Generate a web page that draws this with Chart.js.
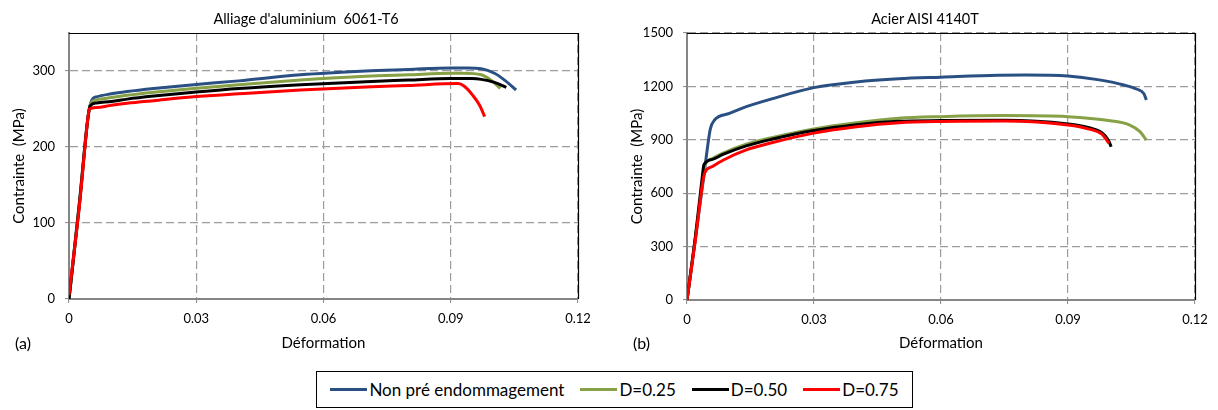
<!DOCTYPE html>
<html>
<head>
<meta charset="utf-8">
<script src="https://cdn.jsdelivr.net/npm/chart.js@4/dist/chart.umd.min.js"></script>
<style>
  html, body { margin: 0; padding: 0; background: #fff; }
  body { width: 1218px; height: 410px; position: relative; overflow: hidden;
         font-family: Lato, "Open Sans", sans-serif; color: #000; }
  canvas { position: absolute; top: 0; }
  #cA { left: 0; }
  #cB { left: 609px; }
  .ttl { position: absolute; top: 10px; font-size: 14.5px; white-space: pre; transform: translateX(-50%); }
  .tag { position: absolute; top: 333px; font-size: 16px; }
  #legend { position: absolute; left: 316px; top: 371px; width: 595px; height: 35px;
            border: 1px solid #000; display: flex; align-items: center; justify-content: center;
            font-size: 17px; }
  #legend .item { display: flex; align-items: center; margin: 0 8px; white-space: pre; }
  #legend .item i { display: inline-block; width: 37px; height: 3px; margin-right: 2px; }
</style>
</head>
<body>
<canvas id="cA" width="609" height="360"></canvas>
<canvas id="cB" width="609" height="360"></canvas>
<div class="ttl" style="left:306px">Alliage d'aluminium  6061-T6</div>
<div class="ttl" style="left:925px">Acier AISI 4140T</div>
<div class="tag" style="left:15px">(a)</div>
<div class="tag" style="left:633px">(b)</div>
<div id="legend"></div>
<script>
// Series labels shared by both panels
const seriesNames = ['Non pré endommagement', 'D=0.25', 'D=0.50', 'D=0.75'];

// Axis ticks
const strainTicks = [0, 0.03, 0.06, 0.09, 0.12];
const strainTickLabels = ['0', '0.03', '0.06', '0.09', '0.12'];
const alStressTicks = [0, 100, 200, 300];
const alStressTickLabels = ['0', '100', '200', '300'];
const steelStressTicks = [0, 300, 600, 900, 1200, 1500];
const steelStressTickLabels = ['0', '300', '600', '900', '1200', '1500'];

// Aluminium 6061-T6: [strain, stress (MPa)]
const alNonPre = [[0,0],[0.0025,130],[0.0045,240],[0.0054,262],[0.0065,266],[0.01,270],[0.0137,273],[0.02,277],[0.0294,282],[0.04,287],[0.0546,295],[0.07,300],[0.08,302],[0.09,304],[0.094,304],[0.0972,303],[0.1003,297],[0.1027,288],[0.1054,275]];
const alD025 = [[0,0],[0.0025,128],[0.0045,240],[0.0052,258],[0.0065,262],[0.01,265],[0.0137,268],[0.02,272],[0.0294,277],[0.04,282],[0.0546,288],[0.07,293],[0.08,295],[0.09,297],[0.093,297],[0.0972,295],[0.0995,288],[0.1017,277]];
const alD050 = [[0,0],[0.0025,127],[0.0045,240],[0.005,254],[0.0065,258],[0.01,260],[0.0137,263],[0.02,267],[0.0294,272],[0.04,277],[0.0546,282],[0.07,286],[0.08,288],[0.09,290],[0.095,290],[0.0972,289],[0.1003,285],[0.1031,278.5]];
const alD075 = [[0,5],[0.0025,125],[0.0045,240],[0.0048,250],[0.0065,252],[0.01,255],[0.0137,257.5],[0.02,261],[0.0294,266],[0.04,270],[0.0546,275],[0.07,279],[0.08,281],[0.0917,283.5],[0.0932,280],[0.0952,268],[0.0968,255],[0.098,240]];

// Steel AISI 4140T: [strain, stress (MPa)]
const stNonPre = [[0,0],[0.002,350],[0.004,700],[0.0048,850],[0.0055,960],[0.0065,1011],[0.01,1048],[0.014,1086],[0.02,1130],[0.03,1193],[0.04,1225],[0.05,1243],[0.06,1252],[0.0735,1263],[0.08,1264],[0.09,1258],[0.097,1238],[0.1032,1208],[0.1063,1184],[0.1079,1160],[0.1085,1124]];
const stD025 = [[0,0],[0.002,350],[0.0038,690],[0.0042,755],[0.006,795],[0.0085,825],[0.014,875],[0.02,912],[0.0296,960],[0.04,996],[0.05,1021],[0.06,1030],[0.075,1036],[0.09,1030],[0.1,1007],[0.1046,983],[0.107,946],[0.1085,899]];
const stD050 = [[0,0],[0.002,360],[0.0036,690],[0.004,760],[0.006,790],[0.0085,818],[0.014,866],[0.02,903],[0.0296,951],[0.04,985],[0.05,1004],[0.06,1008],[0.075,1010],[0.09,989],[0.095,968],[0.098,940],[0.0995,899],[0.1002,861]];
const stD075 = [[0,0],[0.002,340],[0.0037,660],[0.0042,715],[0.006,750],[0.0085,785],[0.014,843],[0.02,883],[0.0296,936],[0.04,973],[0.05,996],[0.06,1003],[0.075,1005],[0.09,983],[0.095,960],[0.098,932],[0.0997,880]];

// Line colours, one per series
const seriesColors = ['#2A5083', '#87A146', '#000000', '#FF0000'];

const FONT = 'Lato, "Open Sans", sans-serif';

// Black top and right edges of the plot frame
const frameBorder = {
  id: 'frameBorder',
  afterDatasetsDraw(chart) {
    const { ctx, chartArea: a } = chart;
    ctx.save();
    ctx.strokeStyle = '#000';
    ctx.lineWidth = 1.2;
    ctx.beginPath();
    ctx.moveTo(a.left, Math.round(a.top) + 0.5);
    ctx.lineTo(Math.round(a.right) + 0.5, Math.round(a.top) + 0.5);
    ctx.lineTo(Math.round(a.right) + 0.5, a.bottom);
    ctx.stroke();
    ctx.restore();
  }
};

function makeDatasets(curves) {
  return curves.map((pts, i) => ({
    label: seriesNames[i],
    data: pts.map(([x, y]) => ({ x, y })),
    borderColor: seriesColors[i],
    backgroundColor: seriesColors[i],
    borderWidth: 3,
    pointRadius: 0,
    fill: false,
    cubicInterpolationMode: 'monotone',
    order: curves.length - i
  }));
}

function makeChart(id, curves, cfg) {
  const gridCommon = { color: '#9c9c9c', lineWidth: 1.2, tickLength: 4, tickColor: '#868686', tickWidth: 1 };
  const borderCommon = { display: true, color: '#868686', width: 2, dash: [8, 4] };
  return new Chart(document.getElementById(id), {
    type: 'line',
    data: { datasets: makeDatasets(curves) },
    options: {
      responsive: false,
      animation: false,
      devicePixelRatio: 1,
      layout: { padding: { top: cfg.padTop, right: cfg.padRight, left: 0, bottom: 0 } },
      plugins: { legend: { display: false }, tooltip: { enabled: false }, title: { display: false } },
      scales: {
        x: {
          type: 'linear', min: 0, max: 0.12,
          afterBuildTicks: s => { s.ticks = strainTicks.map(v => ({ value: v })); },
          afterFit: s => { s.height = cfg.xHeight; },
          ticks: { callback: (v, i) => strainTickLabels[i], font: { family: FONT, size: 13 }, color: '#000',
                   padding: 8, maxRotation: 0, autoSkip: false },
          grid: gridCommon,
          border: borderCommon,
          title: { display: true, text: 'Déformation', color: '#000', font: { family: FONT, size: 15 },
                   padding: { top: 0, bottom: 8 } }
        },
        y: {
          type: 'linear', min: 0, max: cfg.yMax,
          afterBuildTicks: s => { s.ticks = cfg.yTicks.map(v => ({ value: v })); },
          afterFit: s => { s.width = cfg.yWidth; },
          ticks: { callback: (v, i) => cfg.yLabels[i], font: { family: FONT, size: 13 }, color: '#000', padding: 10 },
          grid: gridCommon,
          border: borderCommon,
          title: { display: true, text: 'Contrainte  (MPa)', color: '#000', font: { family: FONT, size: 15 },
                   padding: { top: cfg.yTitlePad, bottom: 0 } }
        }
      }
    },
    plugins: [frameBorder]
  });
}

makeChart('cA', [alNonPre, alD025, alD050, alD075], {
  padTop: 33, padRight: 31, xHeight: 61, yWidth: 69, yMax: 350,
  yTicks: alStressTicks, yLabels: alStressTickLabels, yTitlePad: 10
});
makeChart('cB', [stNonPre, stD025, stD050, stD075], {
  padTop: 33, padRight: 23, xHeight: 60, yWidth: 78, yMax: 1500,
  yTicks: steelStressTicks, yLabels: steelStressTickLabels, yTitlePad: 19
});

// Shared legend under both panels
const legend = document.getElementById('legend');
seriesNames.forEach((name, i) => {
  const item = document.createElement('span');
  item.className = 'item';
  const swatch = document.createElement('i');
  swatch.style.background = seriesColors[i];
  item.appendChild(swatch);
  item.appendChild(document.createTextNode(name));
  legend.appendChild(item);
});
</script>
</body>
</html>
